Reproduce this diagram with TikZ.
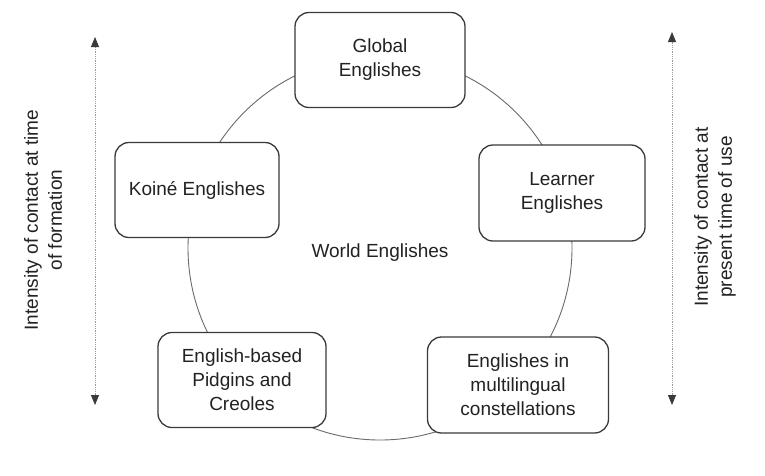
\documentclass[tikz,border=0pt]{standalone}
\usepackage{fontspec}
\setmainfont{Liberation Sans}
\usetikzlibrary{arrows.meta}
\definecolor{ink}{HTML}{222222}
\definecolor{boxline}{HTML}{3A3A3A}
\definecolor{ringline}{HTML}{6A6A6A}
\definecolor{axisline}{HTML}{9A9A9A}
\begin{document}
\begin{tikzpicture}[x=1pt,y=-1pt,
  every node/.style={text=ink,font=\fontsize{19}{24}\selectfont},
  varbox/.style={draw=boxline,line width=1.3pt,rounded corners=14pt,fill=white,
    align=center,inner sep=0pt},
  ring/.style={draw=ringline,line width=0.9pt},
  axis/.style={draw=axisline,line width=0.8pt,densely dotted,
    {Triangle[width=8pt,length=10pt,fill=boxline,color=boxline]}-{Triangle[width=8pt,length=10pt,fill=boxline,color=boxline]}},
  sidelabel/.style={rotate=90,align=center,inner sep=0pt}]
\useasboundingbox (0,0) rectangle (765,475);
\fill[white] (0,0) rectangle (765,475);
% ring
\node[ring,circle,minimum size=384pt,inner sep=0pt] (ringc) at (380,248) {};
% boxes
\node[varbox,minimum width=170pt,minimum height=95pt] (glob) at (380,60) {Global\\Englishes};
\node[varbox,minimum width=164pt,minimum height=95pt] (koine) at (197,190) {Koiné Englishes};
\node[varbox,minimum width=166pt,minimum height=96pt] (learn) at (562,193) {Learner\\Englishes};
\node[varbox,minimum width=168pt,minimum height=95pt] (pidg) at (242,380) {English-based\\Pidgins and\\Creoles};
\node[varbox,minimum width=181pt,minimum height=96pt] (multi) at (518,385) {Englishes in\\multilingual\\constellations};
% centre label
\node (world) at (380,253) {World Englishes};
% axes
\coordinate (ltop) at (95,37);
\coordinate (lbot) at (95,405);
\coordinate (rtop) at (672,32);
\coordinate (rbot) at (672,405);
\draw[axis] (lbot) -- (ltop);
\draw[axis] (rbot) -- (rtop);
\node[sidelabel] (llab) at (43,220) {Intensity of contact at time\\of formation};
\node[sidelabel] (rlab) at (715,217) {Intensity of contact at\\present time of use};
\end{tikzpicture}
\end{document}
